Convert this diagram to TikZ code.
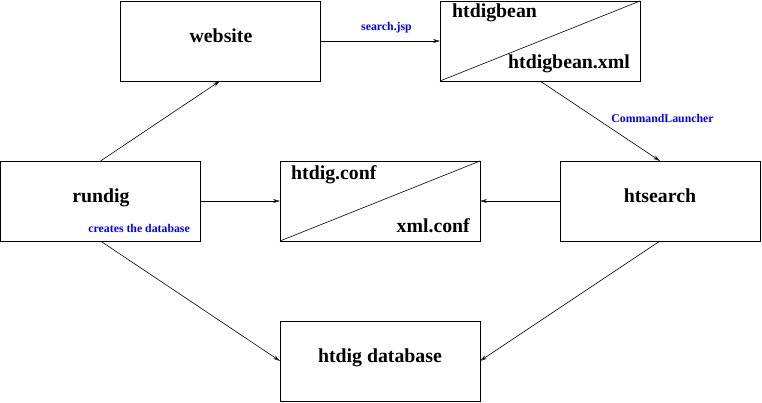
\documentclass[tikz,border=0pt]{standalone}
\usepackage{fontspec}
\setmainfont{Liberation Serif}
\usetikzlibrary{arrows.meta}
\begin{document}
\begin{tikzpicture}[x=1pt,y=-1pt,
  box/.style={draw, line width=0.9pt, minimum width=200pt, minimum height=80pt, inner sep=0pt, outer sep=0pt},
  big/.style={font=\fontsize{19.8}{22}\selectfont\bfseries, inner sep=0pt},
  lbl/.style={font=\fontsize{11.8}{13}\selectfont\bfseries, text=blue, inner sep=0pt},
  conn/.style={line width=0.6pt, -{Stealth[open,length=7pt,width=4pt]}}]
\useasboundingbox (0,0) rectangle (762,402);
% boxes
\node[box] (web) at (220,41) {};
\node[box] (bean) at (540,41) {};
\node[box] (run) at (100.5,201) {};
\node[box] (conf) at (380,201) {};
\node[box] (search) at (660,201) {};
\node[box] (db) at (380,361) {};
% diagonals
\draw[line width=0.6pt] (bean.south west) -- (bean.north east);
\draw[line width=0.6pt] (conf.south west) -- (conf.north east);
% texts
\node[big, anchor=base] (tweb) at (221,42) {website};
\node[big, anchor=base west] (tbean) at (452,17) {htdigbean};
\node[big, anchor=base east] (tbeanxml) at (630,68) {htdigbean.xml};
\node[big, anchor=base] (trun) at (101,202) {rundig};
\node[lbl, anchor=base east] (tcreates) at (190,232) {creates the database};
\node[big, anchor=base west] (tconf) at (291,179) {htdig.conf};
\node[big, anchor=base east] (txml) at (470,232) {xml.conf};
\node[big, anchor=base] (tsearch) at (660,202) {htsearch};
\node[big, anchor=base] (tdb) at (380,362) {htdig database};
% connectors
\draw[conn] (web.east) -- (bean.west);
\node[lbl] (ljsp) at (386.5,27.5) {search.jsp};
\draw[conn] (bean.south) -- (search.north);
\node[lbl] (lcl) at (662.5,118) {CommandLauncher};
\draw[conn] (search.west) -- (conf.east);
\draw[conn] (run.east) -- (conf.west);
\draw[conn] (run.north) -- (web.south);
\draw[conn] (run.south) -- (db.west);
\draw[conn] (search.south) -- (db.east);
\end{tikzpicture}
\end{document}
